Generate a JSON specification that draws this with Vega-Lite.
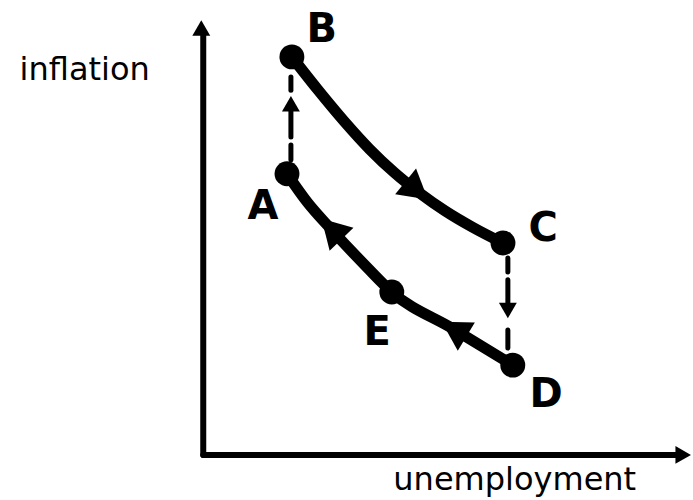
{
  "$schema": "https://vega.github.io/schema/vega-lite/v6.json",
  "width": 693,
  "height": 500,
  "autosize": {"type": "none"},
  "padding": 0,
  "background": "white",
  "config": {"view": {"stroke": null}},
  "datasets": {
    "curves": [
      {"curve": "BC", "order": 1, "u": 1.81, "i": 9.09},
      {"curve": "BC", "order": 2, "u": 2.34, "i": 8.34},
      {"curve": "BC", "order": 3, "u": 2.87, "i": 7.63},
      {"curve": "BC", "order": 4, "u": 3.40, "i": 6.98},
      {"curve": "BC", "order": 5, "u": 3.91, "i": 6.44},
      {"curve": "BC", "order": 6, "u": 4.42, "i": 5.98},
      {"curve": "BC", "order": 7, "u": 4.93, "i": 5.58},
      {"curve": "BC", "order": 8, "u": 5.50, "i": 5.20},
      {"curve": "BC", "order": 9, "u": 6.12, "i": 4.84},
      {"curve": "AED", "order": 1, "u": 1.71, "i": 6.42},
      {"curve": "AED", "order": 2, "u": 2.14, "i": 5.75},
      {"curve": "AED", "order": 3, "u": 2.59, "i": 5.18},
      {"curve": "AED", "order": 4, "u": 3.34, "i": 4.29},
      {"curve": "AED", "order": 5, "u": 3.85, "i": 3.72},
      {"curve": "AED", "order": 6, "u": 5.10, "i": 2.88},
      {"curve": "AED", "order": 7, "u": 6.32, "i": 2.05}
    ],
    "points": [
      {"label": "A", "u": 1.71, "i": 6.42, "lu": 1.22, "li": 5.66},
      {"label": "B", "u": 1.81, "i": 9.09, "lu": 2.42, "li": 9.70},
      {"label": "C", "u": 6.12, "i": 4.84, "lu": 6.94, "li": 5.16},
      {"label": "D", "u": 6.32, "i": 2.05, "lu": 7.00, "li": 1.37},
      {"label": "E", "u": 3.85, "i": 3.72, "lu": 3.55, "li": 2.79}
    ],
    "dashes": [
      {"u": 1.79, "i": 8.63, "i2": 8.33},
      {"u": 1.79, "i": 7.95, "i2": 7.26},
      {"u": 1.79, "i": 7.08, "i2": 6.74},
      {"u": 6.22, "i": 4.50, "i2": 4.18},
      {"u": 6.22, "i": 4.00, "i2": 3.38},
      {"u": 6.22, "i": 2.85, "i2": 2.44}
    ],
    "heads": [
      {"id": "up", "u": 1.79, "i": 8.02},
      {"id": "down", "u": 6.22, "i": 3.30},
      {"id": "bc", "u": 4.36, "i": 6.04},
      {"id": "ae", "u": 2.62, "i": 5.16},
      {"id": "ed", "u": 5.12, "i": 2.87},
      {"id": "yaxis", "u": -0.04, "i": 9.75},
      {"id": "xaxis", "u": 9.80, "i": 0.0}
    ],
    "axes": [
      {"axis": "y", "u": 0, "i": 0, "u2": 0, "i2": 9.6},
      {"axis": "x", "u": 0, "i": 0, "u2": 9.75, "i2": 0}
    ],
    "titles": [
      {"text": "inflation", "u": -2.42, "i": 8.79},
      {"text": "unemployment", "u": 6.36, "i": -0.57}
    ]
  },
  "layer": [
    {
      "data": {"name": "axes"},
      "mark": {"type": "rule", "strokeWidth": 6, "color": "black", "strokeCap": "round"},
      "encoding": {
        "x": {"field": "u", "type": "quantitative", "scale": {"domain": [-4.15, 10], "nice": false}, "axis": null},
        "y": {"field": "i", "type": "quantitative", "scale": {"domain": [-1.03, 10.39], "nice": false}, "axis": null},
        "x2": {"field": "u2"},
        "y2": {"field": "i2"}
      }
    },
    {
      "data": {"name": "dashes"},
      "mark": {"type": "rule", "strokeWidth": 5, "color": "black", "strokeCap": "round"},
      "encoding": {
        "x": {"field": "u", "type": "quantitative", "scale": {"domain": [-4.15, 10], "nice": false}, "axis": null},
        "y": {"field": "i", "type": "quantitative", "scale": {"domain": [-1.03, 10.39], "nice": false}, "axis": null},
        "y2": {"field": "i2"}
      }
    },
    {
      "data": {"name": "curves"},
      "mark": {"type": "line", "strokeWidth": 11, "color": "black", "interpolate": "monotone", "strokeCap": "round"},
      "encoding": {
        "x": {"field": "u", "type": "quantitative", "scale": {"domain": [-4.15, 10], "nice": false}, "axis": null},
        "y": {"field": "i", "type": "quantitative", "scale": {"domain": [-1.03, 10.39], "nice": false}, "axis": null},
        "detail": {"field": "curve"},
        "order": {"field": "order"}
      }
    },
    {
      "data": {"name": "points"},
      "mark": {"type": "point", "filled": true, "size": 620, "color": "black", "opacity": 1},
      "encoding": {
        "x": {"field": "u", "type": "quantitative", "scale": {"domain": [-4.15, 10], "nice": false}, "axis": null},
        "y": {"field": "i", "type": "quantitative", "scale": {"domain": [-1.03, 10.39], "nice": false}, "axis": null}
      }
    },
    {
      "data": {"name": "points"},
      "mark": {"type": "text", "fontSize": 40, "fontWeight": "bold", "font": "DejaVu Sans", "color": "black", "baseline": "middle", "align": "center"},
      "encoding": {
        "x": {"field": "lu", "type": "quantitative", "scale": {"domain": [-4.15, 10], "nice": false}, "axis": null},
        "y": {"field": "li", "type": "quantitative", "scale": {"domain": [-1.03, 10.39], "nice": false}, "axis": null},
        "text": {"field": "label"}
      }
    },
    {
      "data": {"name": "heads"},
      "transform": [{"filter": "datum.id === 'up' || datum.id === 'yaxis'"}],
      "mark": {"type": "point", "shape": "triangle-up", "filled": true, "size": 320, "color": "black", "opacity": 1},
      "encoding": {
        "x": {"field": "u", "type": "quantitative", "scale": {"domain": [-4.15, 10], "nice": false}, "axis": null},
        "y": {"field": "i", "type": "quantitative", "scale": {"domain": [-1.03, 10.39], "nice": false}, "axis": null}
      }
    },
    {
      "data": {"name": "heads"},
      "transform": [{"filter": "datum.id === 'down'"}],
      "mark": {"type": "point", "shape": "triangle-down", "filled": true, "size": 320, "color": "black", "opacity": 1},
      "encoding": {
        "x": {"field": "u", "type": "quantitative", "scale": {"domain": [-4.15, 10], "nice": false}, "axis": null},
        "y": {"field": "i", "type": "quantitative", "scale": {"domain": [-1.03, 10.39], "nice": false}, "axis": null}
      }
    },
    {
      "data": {"name": "heads"},
      "transform": [{"filter": "datum.id === 'xaxis'"}],
      "mark": {"type": "point", "shape": "triangle-right", "filled": true, "size": 320, "color": "black", "opacity": 1},
      "encoding": {
        "x": {"field": "u", "type": "quantitative", "scale": {"domain": [-4.15, 10], "nice": false}, "axis": null},
        "y": {"field": "i", "type": "quantitative", "scale": {"domain": [-1.03, 10.39], "nice": false}, "axis": null}
      }
    },
    {
      "data": {"name": "heads"},
      "transform": [{"filter": "datum.id === 'bc'"}],
      "mark": {"type": "point", "shape": "triangle-up", "filled": true, "size": 1100, "color": "black", "opacity": 1, "angle": 129},
      "encoding": {
        "x": {"field": "u", "type": "quantitative", "scale": {"domain": [-4.15, 10], "nice": false}, "axis": null},
        "y": {"field": "i", "type": "quantitative", "scale": {"domain": [-1.03, 10.39], "nice": false}, "axis": null}
      }
    },
    {
      "data": {"name": "heads"},
      "transform": [{"filter": "datum.id === 'ae'"}],
      "mark": {"type": "point", "shape": "triangle-up", "filled": true, "size": 1100, "color": "black", "opacity": 1, "angle": 316},
      "encoding": {
        "x": {"field": "u", "type": "quantitative", "scale": {"domain": [-4.15, 10], "nice": false}, "axis": null},
        "y": {"field": "i", "type": "quantitative", "scale": {"domain": [-1.03, 10.39], "nice": false}, "axis": null}
      }
    },
    {
      "data": {"name": "heads"},
      "transform": [{"filter": "datum.id === 'ed'"}],
      "mark": {"type": "point", "shape": "triangle-up", "filled": true, "size": 1100, "color": "black", "opacity": 1, "angle": 301},
      "encoding": {
        "x": {"field": "u", "type": "quantitative", "scale": {"domain": [-4.15, 10], "nice": false}, "axis": null},
        "y": {"field": "i", "type": "quantitative", "scale": {"domain": [-1.03, 10.39], "nice": false}, "axis": null}
      }
    },
    {
      "data": {"name": "titles"},
      "mark": {"type": "text", "fontSize": 32, "font": "DejaVu Sans", "fontWeight": "normal", "color": "black", "baseline": "middle", "align": "center"},
      "encoding": {
        "x": {"field": "u", "type": "quantitative", "scale": {"domain": [-4.15, 10], "nice": false}, "axis": null},
        "y": {"field": "i", "type": "quantitative", "scale": {"domain": [-1.03, 10.39], "nice": false}, "axis": null},
        "text": {"field": "text"}
      }
    }
  ]
}
